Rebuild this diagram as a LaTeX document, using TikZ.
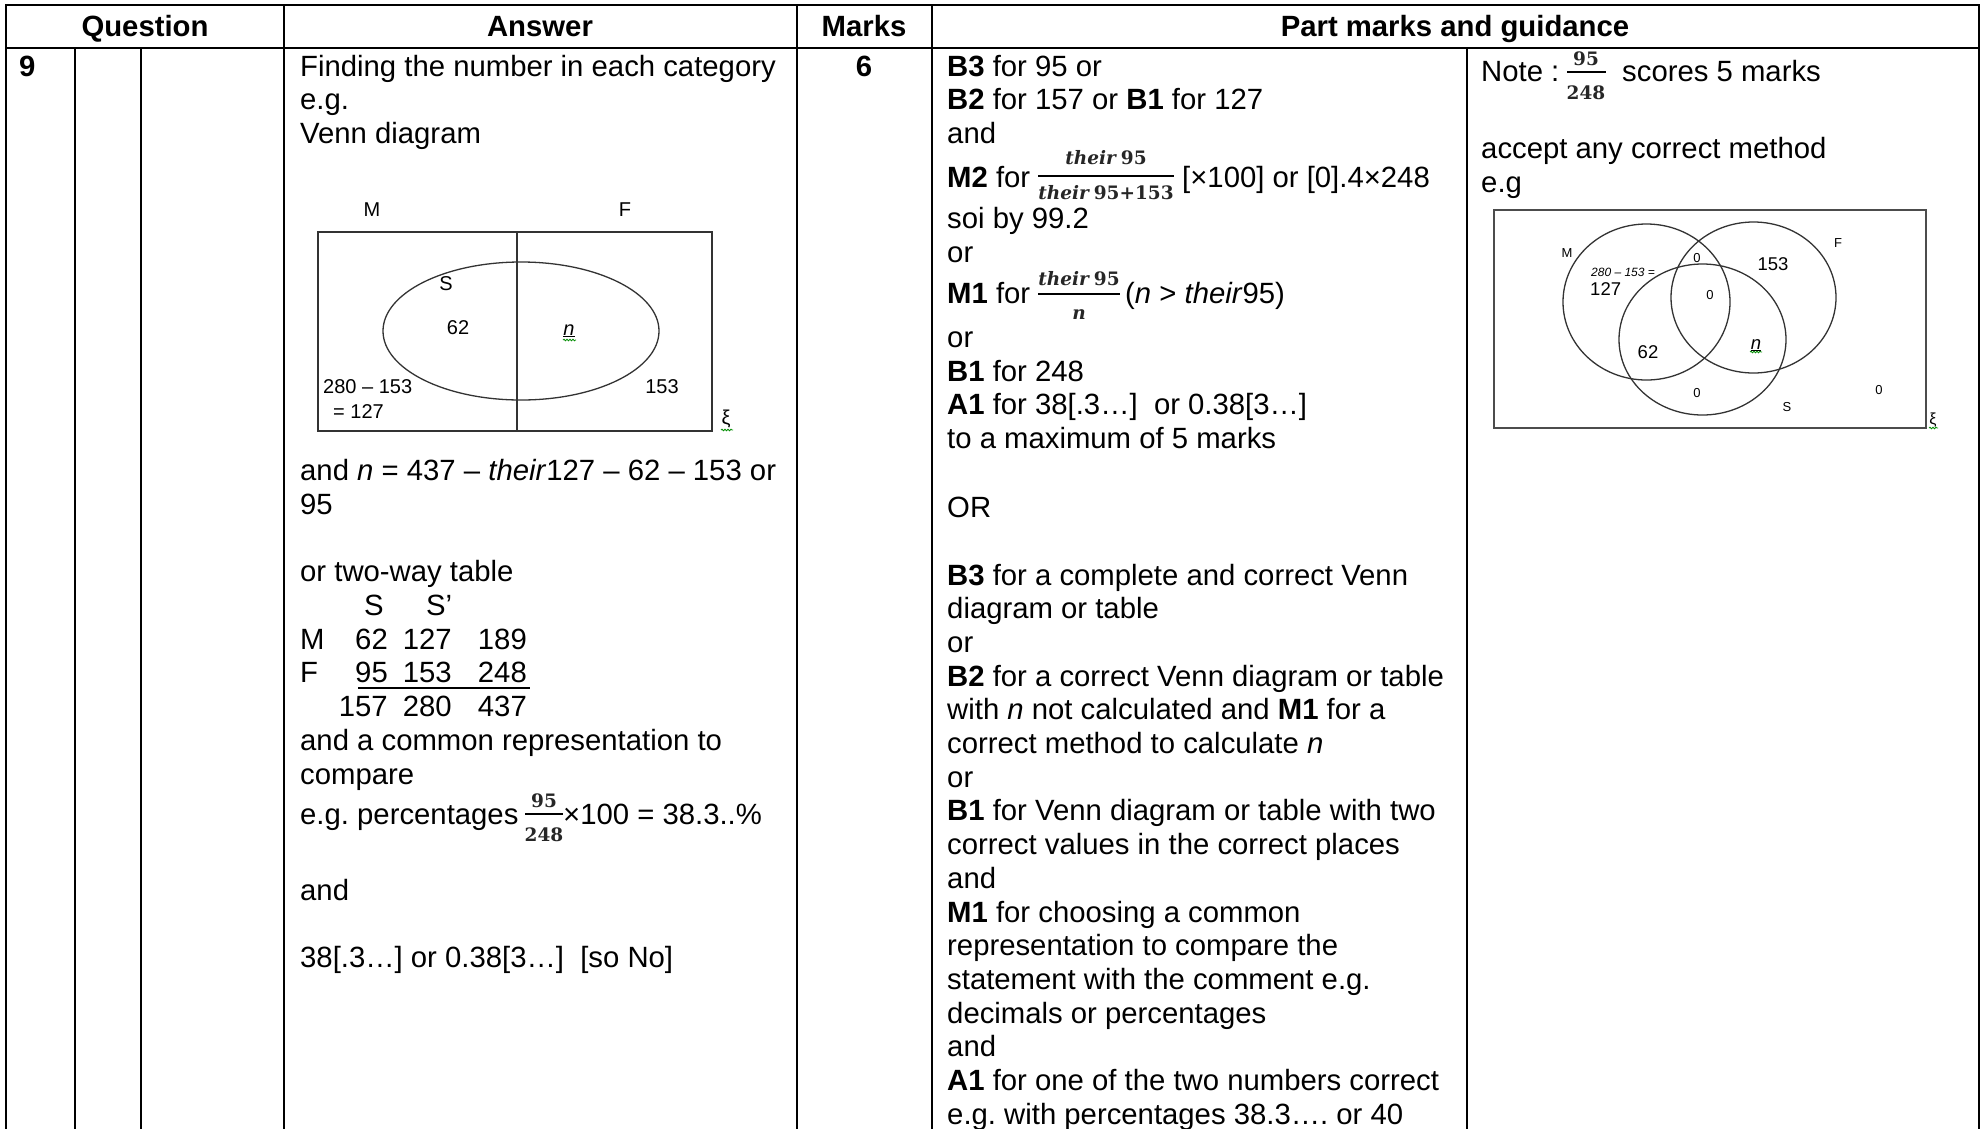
\documentclass[tikz,border=0pt]{standalone}
\usepackage{fontspec}
\setmainfont{Liberation Sans}
\newfontfamily\fracfont{DejaVu Serif}
\usetikzlibrary{decorations.pathmorphing}
\frenchspacing
\tikzset{
  txt/.style={anchor=base west, inner sep=0pt, font=\fontsize{29.3}{33.7}\selectfont},
  hdr/.style={anchor=base, inner sep=0pt, font=\fontsize{29.3}{33.7}\selectfont\bfseries},
  rule/.style={line width=2pt, line cap=rect},
  venn/.style={line width=1.3pt, draw=black!80},
  vennb/.style={line width=1.1pt, draw=black!70},
  vl/.style={inner sep=0pt, font=\fontsize{20}{24}\selectfont},
  vs/.style={inner sep=0pt, font=\fontsize{13}{15}\selectfont},
  vm/.style={inner sep=0pt, font=\fontsize{18.5}{22}\selectfont},
  fr/.style={anchor=base, inner sep=0pt, font=\fontsize{18.5}{21}\fracfont\bfseries, text=black!85},
  frbar/.style={line width=1.4pt},
  squig/.style={draw=green!55!black, line width=0.8pt, decorate, decoration={snake, amplitude=0.8pt, segment length=3pt}}
}
\begin{document}
\begin{tikzpicture}[x=1pt,y=-1pt]
\useasboundingbox (0,0) rectangle (1982,1128);
\fill[white] (0,0) rectangle (1982,1128);

% table rules
\draw[rule] (6,5) -- (1979,5);
\draw[rule] (6,47.5) -- (1979,47.5);
\foreach \x in {6,284,797,932,1979} \draw[rule] (\x,5) -- (\x,1130);
\foreach \x in {75,141,1467} \draw[rule] (\x,47.5) -- (\x,1130);

% headers
\node[hdr] (hq) at (145,36) {Question};
\node[hdr] (ha) at (540,36) {Answer};
\node[hdr] (hm) at (864,36) {Marks};
\node[hdr] (hp) at (1455,36) {Part marks and guidance};
\node[hdr, anchor=base west] (q9) at (19,76) {9};
\node[hdr] (m6) at (864,76) {6};

% answer column
\node[txt] (a1) at (300,76) {Finding the number in each category};
\node[txt] (a2) at (300,109.5) {e.g.};
\node[txt] (a3) at (300,143) {Venn diagram};

% venn diagram 1
\draw[venn] (318,232) rectangle (712,431);
\draw[venn] (517,232) -- (517,431);
\draw[venn] (521,331) ellipse [x radius=138pt, y radius=69pt];
\node[vl] (v1m) at (372,210) {M};
\node[vl] (v1f) at (625,210) {F};
\node[vl] (v1s) at (446,284) {S};
\node[vl] (v1a) at (458,328) {62};
\node[vl, anchor=base] (v1n) at (569,335) {\underline{\textit{n}}};
\node[vl, anchor=west] (v1b) at (323,387) {280 – 153};
\node[vl, anchor=west] (v1c) at (333,412) {= 127};
\node[vl] (v1d) at (662,387) {153};
\node[vl, anchor=base] (v1x) at (726,424) {ξ};
\draw[squig] (563,340) -- (576,340);
\draw[squig] (721,430) -- (733,430);

\node[txt] (a4) at (300,480) {and \textit{n} = 437 – \textit{their}127 – 62 – 153 or};
\node[txt] (a5) at (300,514) {95};
\node[txt] (a6) at (300,581) {or two-way table};
\node[txt, anchor=base] (tS) at (374,615) {S};
\node[txt] (tS2) at (426,615) {S’};
\node[txt] (tM) at (300,649) {M};
\node[txt] (tF) at (300,682) {F};
\node[txt, anchor=base east] (t11) at (388,649) {62};
\node[txt, anchor=base east] (t12) at (452,649) {127};
\node[txt, anchor=base east] (t13) at (527,649) {189};
\node[txt, anchor=base east] (t21) at (388,682) {95};
\node[txt, anchor=base east] (t22) at (452,682) {153};
\node[txt, anchor=base east] (t23) at (527,682) {248};
\node[txt, anchor=base east] (t31) at (388,716) {157};
\node[txt, anchor=base east] (t32) at (452,716) {280};
\node[txt, anchor=base east] (t33) at (527,716) {437};
\draw[line width=1.8pt] (358,688) -- (530,688);
\node[txt] (a7) at (300,750) {and a common representation to};
\node[txt] (a8) at (300,784) {compare};
\node[txt] (a9) at (300,824) {e.g. percentages};
\node[fr] (a9n) at (544,807) {95};
\draw[frbar] (525,814) -- (563,814);
\node[fr] (a9d) at (544,841) {248};
\node[txt] (a9r) at (563,824) {×100 = 38.3..\%};
\node[txt] (a10) at (300,900) {and};
\node[txt] (a11) at (300,967) {38[.3…] or 0.38[3…]~ [so No]};

% part marks column
\node[txt] (p1) at (947,76) {\textbf{B3} for 95 or};
\node[txt] (p2) at (947,109.5) {\textbf{B2} for 157 or \textbf{B1} for 127};
\node[txt] (p3) at (947,143) {and};
\node[txt] (p4) at (947,187) {\textbf{M2} for};
\node[fr] (p4n) at (1106,164) {\itshape their\hspace{5pt}\upshape 95};
\draw[frbar] (1038,176) -- (1174,176);
\node[fr] (p4d) at (1106,199) {\itshape their\hspace{5pt}\upshape 95+153};
\node[txt] (p4r) at (1182,187) {[×100] or [0].4×248};
\node[txt] (p5) at (947,228) {soi by 99.2};
\node[txt] (p6) at (947,262) {or};
\node[txt] (p7) at (947,303) {\textbf{M1} for};
\node[fr] (p7n) at (1079,285) {\itshape their\hspace{5pt}\upshape 95};
\draw[frbar] (1038,294) -- (1120,294);
\node[fr] (p7d) at (1079,319) {\itshape n};
\node[txt] (p7r) at (1125,303) {(\textit{n} > \textit{their}95)};
\node[txt] (p8) at (947,347) {or};
\node[txt] (p9) at (947,381) {\textbf{B1} for 248};
\node[txt] (p10) at (947,414) {\textbf{A1} for 38[.3…]~ or 0.38[3…]};
\node[txt] (p11) at (947,448) {to a maximum of 5 marks};
\node[txt] (p12) at (947,517) {OR};
\foreach \t [count=\i from 0] in {
  {\textbf{B3} for a complete and correct Venn},
  {diagram or table},
  {or},
  {\textbf{B2} for a correct Venn diagram or table},
  {with \textit{n} not calculated and \textbf{M1} for a},
  {correct method to calculate \textit{n}},
  {or},
  {\textbf{B1} for Venn diagram or table with two},
  {correct values in the correct places},
  {and},
  {\textbf{M1} for choosing a common},
  {representation to compare the},
  {statement with the comment e.g.},
  {decimals or percentages},
  {and},
  {\textbf{A1} for one of the two numbers correct},
  {e.g. with percentages 38.3…. or 40}}
  \node[txt] (pb\i) at (947,{585+\i*33.7}) {\t};

% guidance column
\node[txt] (g1) at (1481,81) {Note :};
\node[fr] (g1n) at (1586,65) {95};
\draw[frbar] (1567,72) -- (1606,72);
\node[fr] (g1d) at (1586,99) {248};
\node[txt] (g1r) at (1622,81) {scores 5 marks};
\node[txt] (g2) at (1481,158) {accept any correct method};
\node[txt] (g3) at (1481,192) {e.g};

% venn diagram 2
\draw[vennb] (1494,210) rectangle (1926,428);
\draw[venn] (1646.5,302) ellipse [x radius=83.5pt, y radius=78pt];
\draw[venn] (1753.5,297.5) ellipse [x radius=82.5pt, y radius=75.5pt];
\draw[venn] (1702.5,339.5) ellipse [x radius=83.5pt, y radius=75.5pt];
\node[vs] (v2m) at (1567,253) {M};
\node[vs] (v2f) at (1838,243) {F};
\node[vs] (v2s) at (1787,407) {S};
\node[inner sep=0pt, font=\fontsize{12}{14}\selectfont\itshape, anchor=west] (v2e) at (1591,272) {280 – 153 =};
\node[vm, anchor=west] (v2a) at (1590,289) {127};
\node[vs] (v2z1) at (1697,258) {0};
\node[vm] (v2b) at (1773,264) {153};
\node[vs] (v2z2) at (1710,295) {0};
\node[vm] (v2c) at (1648,352) {62};
\node[vm, anchor=base] (v2n) at (1756,349) {\underline{\textit{n}}};
\node[vs] (v2z3) at (1697,393) {0};
\node[vs] (v2z4) at (1879,390) {0};
\node[inner sep=0pt, font=\fontsize{16}{18}\selectfont, anchor=base] (v2x) at (1933,424) {ξ};
\draw[squig] (1750,352) -- (1762,352);
\draw[squig] (1929,428) -- (1938,428);
\end{tikzpicture}
\end{document}
